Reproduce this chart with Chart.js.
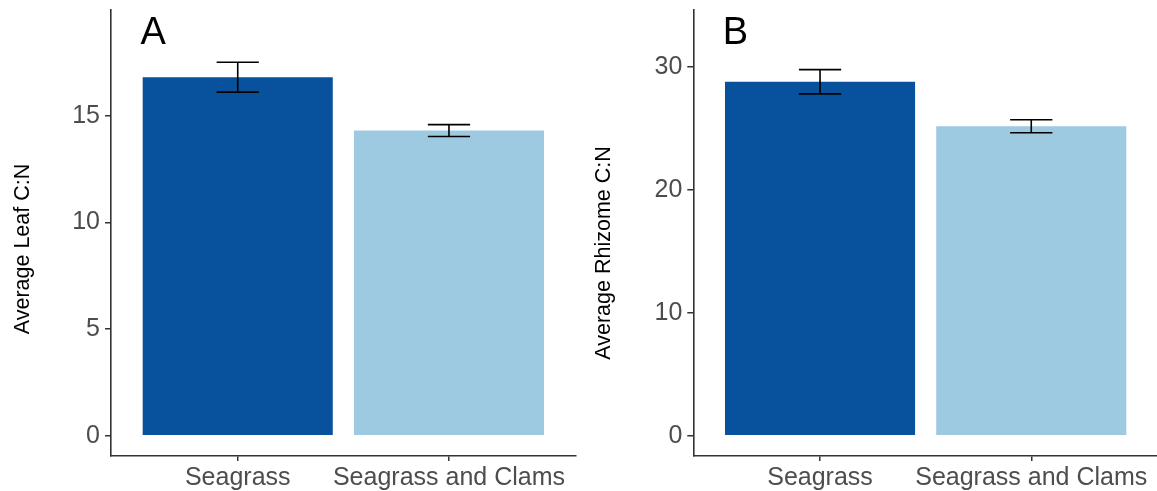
<!DOCTYPE html>
<html>
<head>
<meta charset="utf-8">
<script src="https://cdn.jsdelivr.net/npm/chart.js@4/dist/chart.umd.min.js"></script>
<style>
  html, body { margin: 0; padding: 0; background: #ffffff; overflow: hidden; }
  #wrap { position: relative; width: 1157px; height: 491px; overflow: hidden; }
  .panel { position: absolute; top: 0; width: 580px; height: 491px; }
</style>
</head>
<body>
<div id="wrap">
  <div class="panel" style="left:0px"><canvas id="leafChart"></canvas></div>
  <div class="panel" style="left:580px"><canvas id="rhizomeChart"></canvas></div>
</div>
<script>
// Treatments
const categories = ['Seagrass', 'Seagrass and Clams'];

// Leaf C:N (mean and standard error)
const leafMean = [16.80, 14.30];
const leafSE = [0.70, 0.28];
const leafTicks = [0, 5, 10, 15];

// Rhizome C:N (mean and standard error)
const rhizomeMean = [28.81, 25.19];
const rhizomeSE = [0.99, 0.53];
const rhizomeTicks = [0, 10, 20, 30];

const barColors = ['#08519C', '#9ECAE1'];
const FONT = "'Liberation Sans', Arial, Helvetica, sans-serif";

// Error bars drawn from the mean / SE arrays through the chart scales
const errorBarPlugin = {
  id: 'errorBars',
  afterDatasetsDraw(chart, args, opts) {
    const {ctx, scales: {x, y}} = chart;
    ctx.save();
    ctx.strokeStyle = '#000000';
    ctx.lineWidth = 1.6;
    opts.mean.forEach((m, i) => {
      const cx = x.getPixelForValue(i + 1);
      const half = x.getPixelForValue(i + 1 + opts.capWidth / 2) - cx;
      const yHi = y.getPixelForValue(m + opts.se[i]);
      const yLo = y.getPixelForValue(m - opts.se[i]);
      ctx.beginPath();
      ctx.moveTo(cx, yHi); ctx.lineTo(cx, yLo);
      ctx.moveTo(cx - half, yHi); ctx.lineTo(cx + half, yHi);
      ctx.moveTo(cx - half, yLo); ctx.lineTo(cx + half, yLo);
      ctx.stroke();
    });
    ctx.restore();
  }
};

// Panel letter and rotated y-axis title
const panelTextPlugin = {
  id: 'panelText',
  afterDraw(chart, args, opts) {
    const {ctx, scales: {x, y}} = chart;
    ctx.save();
    ctx.fillStyle = '#000000';
    ctx.font = '38px ' + FONT;
    ctx.textAlign = 'center';
    ctx.textBaseline = 'middle';
    ctx.fillText(opts.letter, x.getPixelForValue(opts.letterX), y.getPixelForValue(opts.letterY) + 3);
    ctx.translate(opts.titleX, opts.titleY);
    ctx.rotate(-Math.PI / 2);
    ctx.font = '21.5px ' + FONT;
    ctx.fillText(opts.title, 0, 0);
    ctx.restore();
  }
};

function makeChart(id, mean, se, ticks, yMin, yMax, letter, letterY, title, titleX, titleY, yAxisWidth, padRight) {
  return new Chart(document.getElementById(id), {
    type: 'bar',
    data: {
      datasets: [{
        data: mean.map((v, i) => ({x: i + 1, y: v})),
        backgroundColor: barColors,
        borderWidth: 0,
        barPercentage: 0.9,
        categoryPercentage: 1.0
      }]
    },
    options: {
      responsive: true,
      maintainAspectRatio: false,
      animation: false,
      layout: {padding: {top: 10, right: padRight, left: 0, bottom: 0}},
      plugins: {
        legend: {display: false},
        tooltip: {enabled: false},
        errorBars: {mean: mean, se: se, capWidth: 0.2},
        panelText: {letter: letter, letterX: 0.6, letterY: letterY, title: title, titleX: titleX, titleY: titleY}
      },
      scales: {
        x: {
          type: 'linear',
          offset: false,
          min: 0.4,
          max: 2.6,
          afterBuildTicks(scale) { scale.ticks = categories.map((c, i) => ({value: i + 1})); },
          afterFit(scale) {
            scale.height = 35;
            scale.paddingLeft = 0;
            scale.paddingRight = 0;
          },
          ticks: {
            callback: (v) => categories[v - 1] || '',
            color: '#4D4D4D',
            font: {family: FONT, size: 25},
            padding: 2,
            maxRotation: 0,
            autoSkip: false
          },
          grid: {display: true, offset: false, drawOnChartArea: false, drawTicks: true, tickLength: 5, color: '#333333', lineWidth: 1.5},
          border: {display: true, color: '#333333', width: 1.6}
        },
        y: {
          type: 'linear',
          min: yMin,
          max: yMax,
          afterBuildTicks(scale) { scale.ticks = ticks.map(v => ({value: v})); },
          afterFit(scale) {
            scale.width = yAxisWidth;
            scale.paddingTop = 0;
            scale.paddingBottom = 0;
          },
          ticks: {
            color: '#4D4D4D',
            font: {family: FONT, size: 25},
            padding: 5
          },
          grid: {display: true, drawOnChartArea: false, drawTicks: true, tickLength: 6, color: '#333333', lineWidth: 1.5},
          border: {display: true, color: '#333333', width: 1.6}
        }
      }
    },
    plugins: [errorBarPlugin, panelTextPlugin]
  });
}

makeChart('leafChart', leafMean, leafSE, leafTicks, -0.95, 19.95, 'A', 19, 'Average Leaf C:N', 23, 249, 111, 4.3);
makeChart('rhizomeChart', rhizomeMean, rhizomeSE, rhizomeTicks, -1.65, 34.65, 'B', 33, 'Average Rhizome C:N', 24, 253, 113.3, 2);
</script>
</body>
</html>
